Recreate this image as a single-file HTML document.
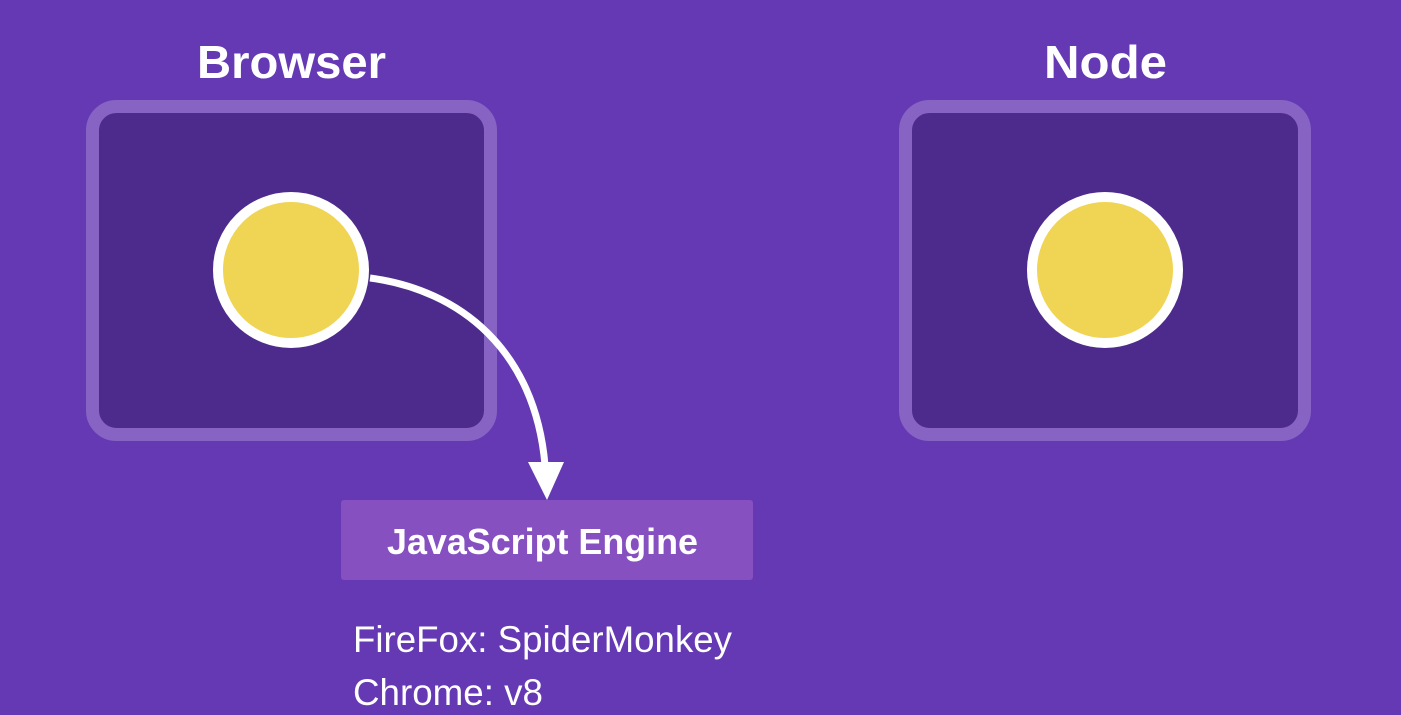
<!DOCTYPE html>
<html><head><meta charset="utf-8"><style>
html,body{margin:0;padding:0;background:#6539B3;}
svg{display:block;}
text{font-family:"Liberation Sans",sans-serif;fill:#fff;}
</style></head><body>
<svg width="1401" height="715" viewBox="0 0 1401 715">
<rect width="1401" height="715" fill="#6539B3"/>
<text x="197" y="78" font-size="46" font-weight="bold" textLength="189" lengthAdjust="spacingAndGlyphs">Browser</text>
<text x="1044" y="78" font-size="46" font-weight="bold" textLength="123" lengthAdjust="spacingAndGlyphs">Node</text>
<rect x="92.5" y="106.5" width="398" height="328" rx="24" fill="#4D2B8C" stroke="#8763C4" stroke-width="13"/>
<rect x="905.5" y="106.5" width="399" height="328" rx="24" fill="#4D2B8C" stroke="#8763C4" stroke-width="13"/>
<circle cx="291" cy="270" r="73" fill="#F0D453" stroke="#fff" stroke-width="10"/>
<circle cx="1105" cy="270" r="73" fill="#F0D453" stroke="#fff" stroke-width="10"/>
<path d="M370 278 C460 290 535 350 545 465" fill="none" stroke="#fff" stroke-width="7"/>
<polygon points="528,462 564,462 547,500" fill="#fff"/>
<rect x="341" y="500" width="412" height="80" rx="3" fill="#8650C0"/>
<text x="387" y="554" font-size="36" font-weight="bold" textLength="311" lengthAdjust="spacingAndGlyphs">JavaScript Engine</text>
<text x="353" y="652" font-size="37" textLength="379" lengthAdjust="spacingAndGlyphs">FireFox: SpiderMonkey</text>
<text x="353" y="705" font-size="37" textLength="190" lengthAdjust="spacingAndGlyphs">Chrome: v8</text>
</svg>
</body></html>
